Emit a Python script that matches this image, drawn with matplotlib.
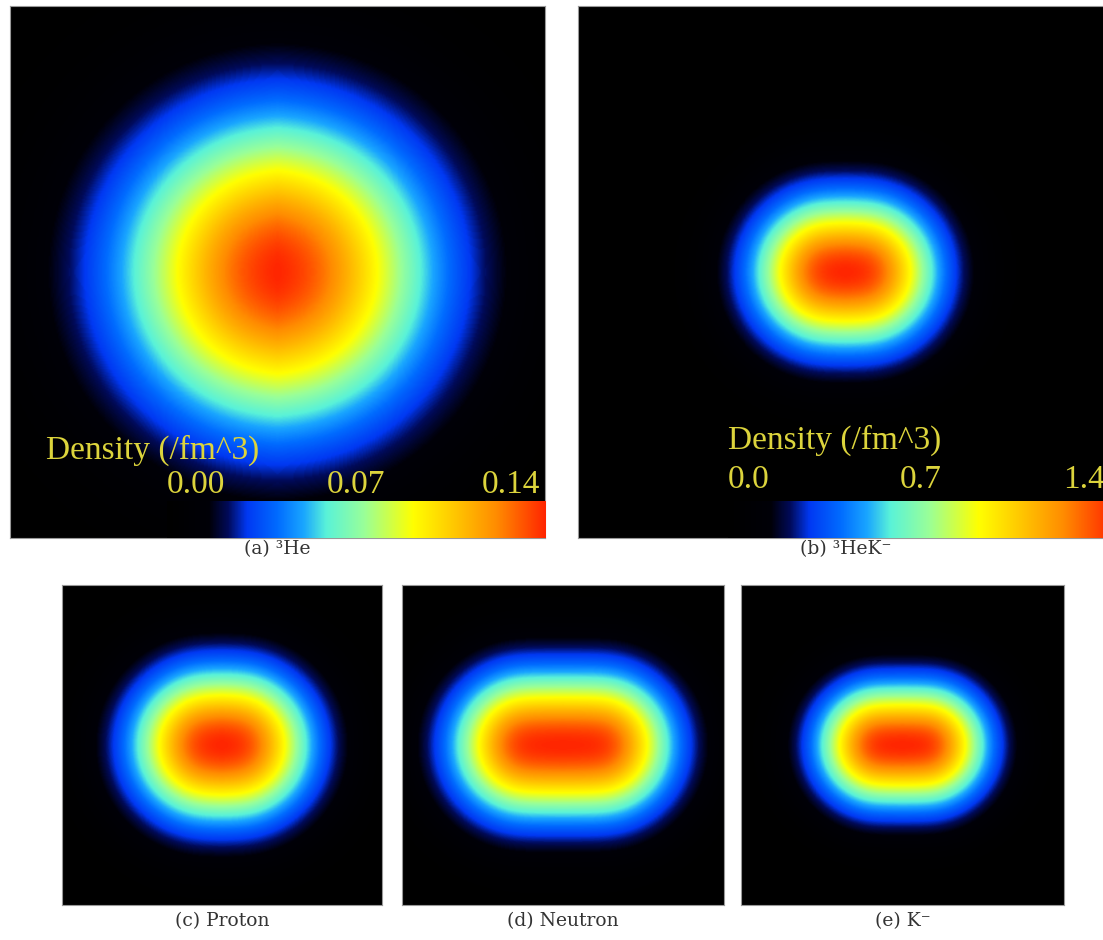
import numpy as np
import matplotlib
matplotlib.use('Agg')
from matplotlib import pyplot as plt
from matplotlib.colors import LinearSegmentedColormap

# Panel captions and density model parameters
captions = ['(a) ³He', '(b) ³HeK⁻', '(c) Proton', '(d) Neutron', '(e) K⁻']
peak_density = [0.14, 1.4, 0.75, 0.55, 0.9]     # /fm^3 at the centre
gauss_width = [1.75, 0.85, 0.855, 0.82, 0.69]   # fm
half_length = [0.0, 0.2, 0.17, 0.43, 0.27]      # fm, stretch along x
box_half = [3.0, 3.0, 1.8, 1.8, 1.8]            # fm, half size of each box

# Colour scales drawn inside panels (a) and (b)
cbar_ticks_a = ['0.00', '0.07', '0.14']
cbar_ticks_b = ['0.0', '0.7', '1.4']
cbar_title = 'Density (/fm^3)'

# black -> blue -> cyan -> yellow -> red
cmap_stops = [
    (0.00, (0.0, 0.0, 0.0)),
    (0.11, (0.0, 0.0, 0.03)),
    (0.16, (0.0, 0.04, 0.35)),
    (0.21, (0.0, 0.22, 0.95)),
    (0.29, (0.0, 0.42, 1.0)),
    (0.36, (0.1, 0.65, 1.0)),
    (0.42, (0.35, 0.95, 0.85)),
    (0.52, (0.6, 1.0, 0.6)),
    (0.65, (1.0, 1.0, 0.0)),
    (0.75, (1.0, 0.8, 0.0)),
    (0.87, (1.0, 0.55, 0.0)),
    (1.00, (1.0, 0.15, 0.0)),
]
cmap = LinearSegmentedColormap.from_list('dens', cmap_stops)


def density(i, n=400):
    '''
    Gaussian smeared around a short segment on the x axis.
    '''
    h = box_half[i]
    s = gauss_width[i]
    x = np.linspace(-h, h, n)
    X, Y = np.meshgrid(x, x)
    # soft distance to the segment, rounds the ends of the core a bit
    u = np.abs(X) - half_length[i]
    e = 0.3 * s
    dx = 0.5 * (u + np.sqrt(u ** 2 + e ** 2))
    return peak_density[i] * np.exp(-(dx ** 2 + Y ** 2) / s ** 2)


W, H = 1103, 940
fig = plt.figure(figsize=(W / 100, H / 100), dpi=100)

# panel boxes in pixels: left, top, width, height, caption gap
boxes = [
    (10, 6, 535, 532, 11),
    (578, 6, 535, 532, 11),
    (62, 585, 320, 320, 16),
    (402, 585, 322, 320, 16),
    (741, 585, 323, 320, 16),
]

axes = []
for i, (l, t, w, h, gap) in enumerate(boxes):
    ax = fig.add_axes([l / W, (H - t - h) / H, w / W, h / H])
    hb = box_half[i]
    rho = density(i)
    ax.imshow(rho / rho.max() * peak_density[i], cmap=cmap, vmin=0,
              vmax=peak_density[i], extent=[-hb, hb, -hb, hb],
              origin='lower', interpolation='bilinear', aspect='auto')
    ax.set_xticks([])
    ax.set_yticks([])
    for sp in ax.spines.values():
        sp.set_color('#999999')
        sp.set_linewidth(0.8)
    # caption under the panel
    fig.text((l + w / 2) / W, (H - t - h - gap) / H, captions[i],
             ha='center', va='center', fontsize=13.5,
             family='DejaVu Serif', color='#333333')
    axes.append(ax)

# colour scales in (a) and (b)
text_col = '#dcd43c'
cbar_setup = [
    (axes[0], cbar_ticks_a, 0.293, 0.067, 0.164, 0.100, 0.99),
    (axes[1], cbar_ticks_b, 0.280, 0.280, 0.184, 0.109, 0.985),
]
for ax, ticks, x0, title_x, title_y, tick_y, right in cbar_setup:
    cax = ax.inset_axes([x0, 0.0, 1.0 - x0, 0.07])
    cax.imshow(np.linspace(0, 1, 256)[None, :], cmap=cmap, aspect='auto',
               extent=[0, 1, 0, 1])
    cax.axis('off')
    ax.text(title_x, title_y, cbar_title, transform=ax.transAxes,
            ha='left', va='center', fontsize=24, color=text_col,
            family='Liberation Serif')
    xs = [x0, (x0 + 1.0) / 2, right]
    aligns = ['left', 'center', 'right']
    for lab, xx, al in zip(ticks, xs, aligns):
        ax.text(xx, tick_y, lab, transform=ax.transAxes, ha=al,
                va='center', fontsize=24, color=text_col,
                family='Liberation Serif')

fig.savefig('out.png', dpi=100, facecolor='white')
